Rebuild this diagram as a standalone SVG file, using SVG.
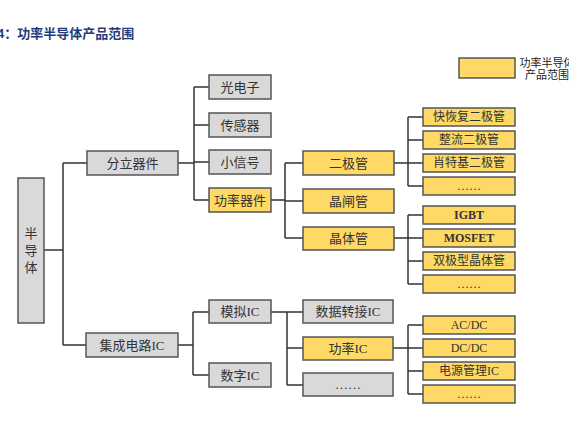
<svg xmlns="http://www.w3.org/2000/svg" width="569" height="429" viewBox="0 0 569 429">
<style>
.g{fill:#D9D9D9;stroke:#555;stroke-width:1.5}
.y{fill:#FFD966;stroke:#555;stroke-width:1.5}
.t{font-family:"Liberation Serif","Noto Sans CJK SC",serif;font-size:13px;fill:#333;text-anchor:middle;dominant-baseline:central}
.s{font-size:12px}
.c{fill:none;stroke:#333;stroke-width:1.5}
</style>
<rect width="569" height="429" fill="#fff"/>
<text x="-3" y="38" font-family="Liberation Sans,'Noto Sans CJK SC',sans-serif" font-size="13" font-weight="bold" fill="#1F3D7A">4：功率半导体产品范围</text>
<g id="legend">
<rect x="459" y="58" width="56" height="20" class="y"/>
<text x="547" y="63" font-family="Liberation Sans,'Noto Sans CJK SC',sans-serif" font-size="11" fill="#222" text-anchor="middle" dominant-baseline="central">功率半导体</text>
<text x="547" y="75" font-family="Liberation Sans,'Noto Sans CJK SC',sans-serif" font-size="11" fill="#222" text-anchor="middle" dominant-baseline="central">产品范围</text>
</g>
<g id="connectors" class="c">
<path d="M44 250H63M63 163V345M63 163H87M63 345H86"/>
<path d="M178 163H194M194 87V200M194 87H209M194 125H209M194 162H209M194 200H209"/>
<path d="M271 200H285M285 163V238M285 163H303M285 201H303M285 238H303"/>
<path d="M394 163H408M408 117V186M408 117H423M408 140H423M408 163H423M408 186H423"/>
<path d="M394 238H408M408 215V284M408 215H423M408 238H423M408 261H423M408 284H423"/>
<path d="M178 345H193M193 312V375M193 312H209M193 375H209"/>
<path d="M271 312H287M287 312V385M287 312H303M287 348H303M287 385H303"/>
<path d="M393 348H408M408 325V394M408 325H423M408 348H423M408 371H423M408 394H423"/>
</g>
<g id="n-semi"><rect x="18" y="178" width="26" height="145" class="g"/><text class="t" x="31" y="233">半</text><text class="t" x="31" y="250">导</text><text class="t" x="31" y="267">体</text></g>
<g id="n-discrete"><rect x="87" y="151" width="91" height="24" class="g"/><text class="t" x="132.5" y="163">分立器件</text></g>
<g id="n-ic"><rect x="86" y="333" width="92" height="24" class="g"/><text class="t" x="132" y="345">集成电路IC</text></g>
<g id="n-opto"><rect x="209" y="75" width="62" height="24" class="g"/><text class="t" x="240" y="87">光电子</text></g>
<g id="n-sensor"><rect x="209" y="113" width="62" height="24" class="g"/><text class="t" x="240" y="125">传感器</text></g>
<g id="n-small"><rect x="209" y="150" width="62" height="24" class="g"/><text class="t" x="240" y="162">小信号</text></g>
<g id="n-power"><rect x="209" y="188" width="62" height="24" class="y"/><text class="t" x="240" y="200">功率器件</text></g>
<g id="n-analog"><rect x="209" y="300" width="62" height="23" class="g"/><text class="t" x="240" y="311.5">模拟IC</text></g>
<g id="n-digital"><rect x="209" y="363" width="62" height="24" class="g"/><text class="t" x="240" y="375">数字IC</text></g>
<g id="n-diode"><rect x="303" y="151" width="91" height="24" class="y"/><text class="t" x="348.5" y="163">二极管</text></g>
<g id="n-thyristor"><rect x="303" y="189" width="91" height="24" class="y"/><text class="t" x="348.5" y="201">晶闸管</text></g>
<g id="n-transistor"><rect x="303" y="227" width="91" height="23" class="y"/><text class="t" x="348.5" y="238.5">晶体管</text></g>
<g id="n-dataconv"><rect x="303" y="300" width="90" height="23" class="g"/><text class="t" x="348" y="311.5">数据转接IC</text></g>
<g id="n-poweric"><rect x="303" y="337" width="90" height="23" class="y"/><text class="t" x="348" y="348.5">功率IC</text></g>
<g id="n-icmore"><rect x="303" y="373" width="90" height="23" class="g"/><text class="t" x="348" y="384.5">……</text></g>
<g id="n-frd"><rect x="423" y="108" width="92" height="18" class="y"/><text class="t s" x="469" y="117">快恢复二极管</text></g>
<g id="n-rect"><rect x="423" y="131" width="92" height="18" class="y"/><text class="t s" x="469" y="140">整流二极管</text></g>
<g id="n-sbd"><rect x="423" y="154" width="92" height="18" class="y"/><text class="t s" x="469" y="163">肖特基二极管</text></g>
<g id="n-dmore"><rect x="423" y="177" width="92" height="18" class="y"/><text class="t s" x="469" y="186">……</text></g>
<g id="n-igbt"><rect x="423" y="206" width="92" height="18" class="y"/><text class="t s" x="469" y="215" font-weight="bold">IGBT</text></g>
<g id="n-mosfet"><rect x="423" y="229" width="92" height="18" class="y"/><text class="t s" x="469" y="238" font-weight="bold">MOSFET</text></g>
<g id="n-bjt"><rect x="423" y="252" width="92" height="18" class="y"/><text class="t s" x="469" y="261">双极型晶体管</text></g>
<g id="n-tmore"><rect x="423" y="275" width="92" height="18" class="y"/><text class="t s" x="469" y="284">……</text></g>
<g id="n-acdc"><rect x="423" y="316" width="92" height="18" class="y"/><text class="t s" x="469" y="325">AC/DC</text></g>
<g id="n-dcdc"><rect x="423" y="339" width="92" height="18" class="y"/><text class="t s" x="469" y="348">DC/DC</text></g>
<g id="n-pmic"><rect x="423" y="362" width="92" height="18" class="y"/><text class="t s" x="469" y="371">电源管理IC</text></g>
<g id="n-pmore"><rect x="423" y="385" width="92" height="18" class="y"/><text class="t s" x="469" y="394">……</text></g>
</svg>
